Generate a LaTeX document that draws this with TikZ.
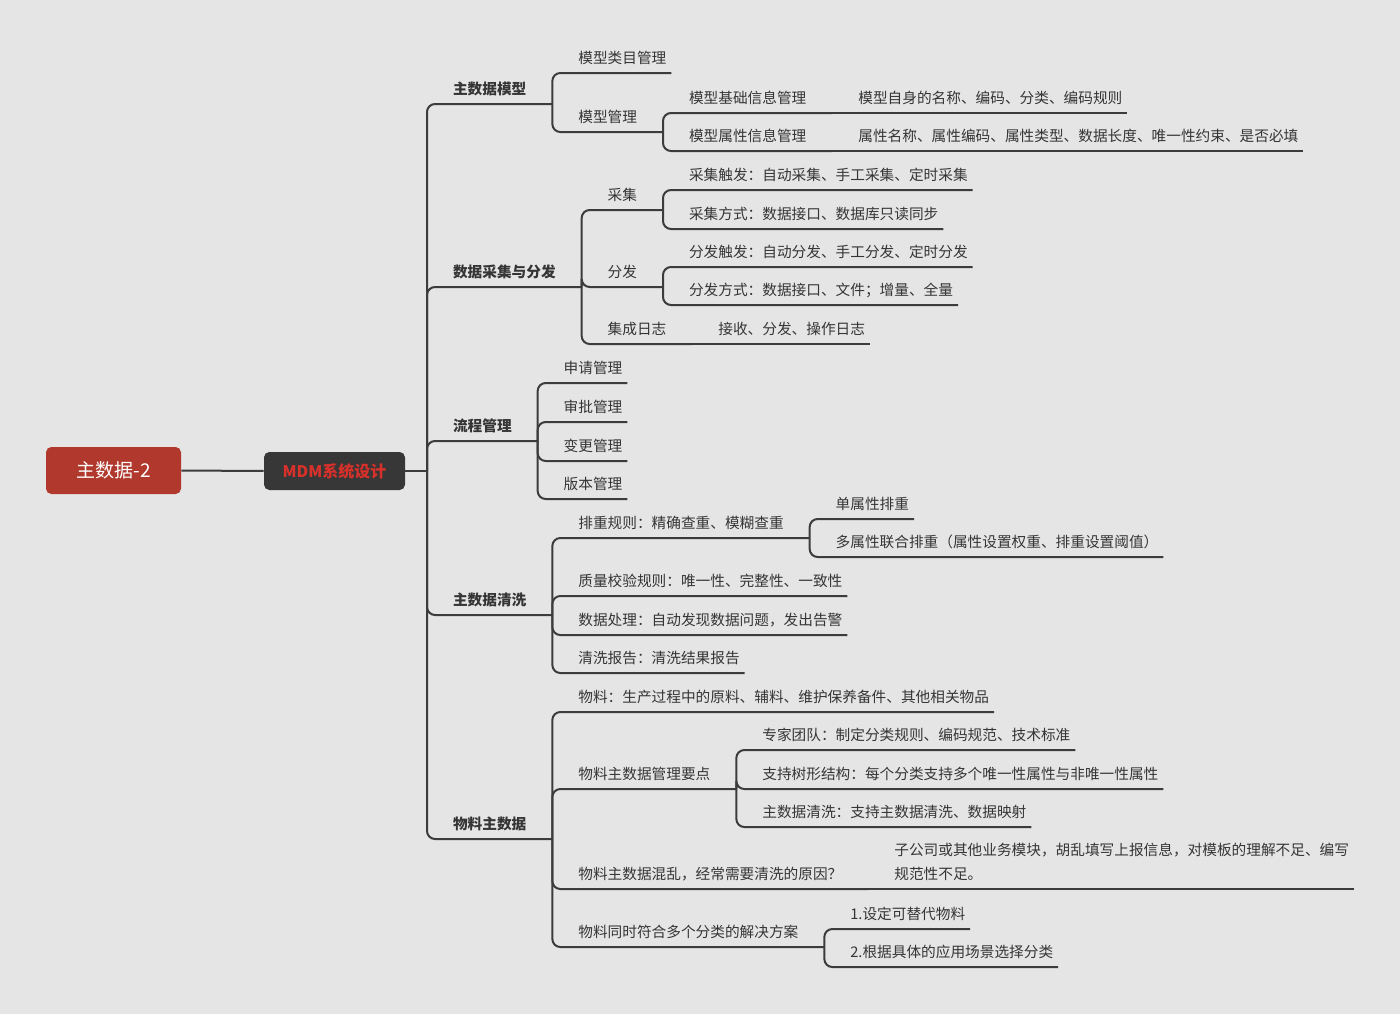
\documentclass[tikz,border=0pt]{standalone}
\usepackage{fontspec}
\setmainfont{Noto Sans CJK SC}
\definecolor{bgc}{HTML}{E5E5E5}
\definecolor{linec}{HTML}{3C3C3C}
\definecolor{textc}{HTML}{353535}
\definecolor{rootc}{HTML}{B0382C}
\definecolor{hubc}{HTML}{373737}
\definecolor{hubtext}{HTML}{D8302A}

\begin{document}
\begin{tikzpicture}[x=0.75pt, y=-0.75pt,
  root/.style={fill=rootc, rounded corners=4pt, minimum width=101.25pt, minimum height=35.25pt, text=white, font=\fontsize{14.25}{17}\selectfont},
  hubbox/.style={fill=hubc, rounded corners=4pt, minimum width=105.75pt, minimum height=28.5pt, text=hubtext, font=\fontsize{12}{14}\selectfont\bfseries},
  topic/.style={anchor=south west, inner xsep=0pt, inner ysep=6.8pt, outer sep=0pt, text depth=0pt, text=textc, font=\fontsize{11}{18}\selectfont, execute at begin node=\hspace*{19.5pt}, execute at end node=\hspace*{3.75pt}},
  branch/.style={topic, execute at end node=\hspace*{15.75pt}},
  major/.style={branch, font=\fontsize{11}{18}\selectfont\bfseries},
  link/.style={draw=linec, line width=1.5pt, rounded corners=6pt}
]
\fill[bgc] (0,0) rectangle (1400,1014);
\useasboundingbox (0,0) rectangle (1400,1014);

\node[root] (main) at (113.5,470.5) {主数据-2};
\node[hubbox] (mdm) at (334.5,471) {MDM系统设计};
\coordinate (hub) at (427,471);

% 主数据模型
\node[major] (model) at (hub |- 0,104) {主数据模型};
\node[topic] (modelcat) at (model.south east |- 0,73) {模型类目管理};
\node[branch] (modelmgr) at (model.south east |- 0,132) {模型管理};
\node[branch] (basemgr) at (modelmgr.south east |- 0,113) {模型基础信息管理};
\node[topic] (baseinfo) at (basemgr.south east) {模型自身的名称、编码、分类、编码规则};
\node[branch] (attrmgr) at (modelmgr.south east |- 0,151) {模型属性信息管理};
\node[topic] (attrinfo) at (attrmgr.south east) {属性名称、属性编码、属性类型、数据长度、唯一性约束、是否必填};

% 数据采集与分发
\node[major] (sync) at (hub |- 0,287) {数据采集与分发};
\node[branch] (collect) at (sync.south east |- 0,210) {采集};
\node[topic] (coltrig) at (collect.south east |- 0,190) {采集触发：自动采集、手工采集、定时采集};
\node[topic] (colway) at (collect.south east |- 0,229) {采集方式：数据接口、数据库只读同步};
\node[branch] (dist) at (sync.south east |- 0,287) {分发};
\node[topic] (distrig) at (dist.south east |- 0,267) {分发触发：自动分发、手工分发、定时分发};
\node[topic] (disway) at (dist.south east |- 0,305) {分发方式：数据接口、文件；增量、全量};
\node[branch] (intlog) at (sync.south east |- 0,344) {集成日志};
\node[topic] (loginfo) at (intlog.south east) {接收、分发、操作日志};

% 流程管理
\node[major] (flow) at (hub |- 0,441) {流程管理};
\node[topic] (apply) at (flow.south east |- 0,383) {申请管理};
\node[topic] (approve) at (flow.south east |- 0,422) {审批管理};
\node[topic] (change) at (flow.south east |- 0,461) {变更管理};
\node[topic] (version) at (flow.south east |- 0,499) {版本管理};

% 主数据清洗
\node[major] (clean) at (hub |- 0,615) {主数据清洗};
\node[branch] (dedup) at (clean.south east |- 0,538) {排重规则：精确查重、模糊查重};
\node[topic] (single) at (dedup.south east |- 0,519) {单属性排重};
\node[topic] (multi) at (dedup.south east |- 0,557) {多属性联合排重（属性设置权重、排重设置阈值）};
\node[topic] (quality) at (clean.south east |- 0,596) {质量校验规则：唯一性、完整性、一致性};
\node[topic] (handle) at (clean.south east |- 0,635) {数据处理：自动发现数据问题，发出告警};
\node[topic] (report) at (clean.south east |- 0,673) {清洗报告：清洗结果报告};

% 物料主数据
\node[major] (material) at (hub |- 0,839) {物料主数据};
\node[topic] (matdef) at (material.south east |- 0,712) {物料：生产过程中的原料、辅料、维护保养备件、其他相关物品};
\node[branch] (keypts) at (material.south east |- 0,789) {物料主数据管理要点};
\node[topic] (expert) at (keypts.south east |- 0,750) {专家团队：制定分类规则、编码规范、技术标准};
\node[topic] (tree) at (keypts.south east |- 0,789) {支持树形结构：每个分类支持多个唯一性属性与非唯一性属性};
\node[topic] (mdclean) at (keypts.south east |- 0,827) {主数据清洗：支持主数据清洗、数据映射};
\node[branch] (chaos) at (material.south east |- 0,889) {物料主数据混乱，经常需要清洗的原因？};
\node[topic] (reason) at (chaos.south east) {\begin{tabular}[b]{@{}l@{}}子公司或其他业务模块，胡乱填写上报信息，对模板的理解不足、编写\\规范性不足。\end{tabular}};
\node[branch] (multicat) at (material.south east |- 0,947) {物料同时符合多个分类的解决方案};
\node[topic] (alt) at (multicat.south east |- 0,929) {1.设定可替代物料};
\node[topic] (scene) at (multicat.south east |- 0,967) {2.根据具体的应用场景选择分类};

\draw[link] (main) -- (mdm);
\draw[link] (mdm.east) -- (hub);
\draw[link] (hub) |- (model.south east);
\draw[link] (hub) |- (sync.south east);
\draw[link] (hub) |- (flow.south east);
\draw[link] (hub) |- (clean.south east);
\draw[link] (hub) |- (material.south east);

\draw[link] (model.south east) |- (modelcat.south east);
\draw[link] (model.south east) |- (modelmgr.south east);
\draw[link] (modelmgr.south east) |- (basemgr.south east);
\draw[link] (modelmgr.south east) |- (attrmgr.south east);
\draw[link] (basemgr.south east) -- (baseinfo.south east);
\draw[link] (attrmgr.south east) -- (attrinfo.south east);

\draw[link] (sync.south east) |- (collect.south east);
\draw[link] (sync.south east) |- (dist.south east);
\draw[link] (sync.south east) |- (intlog.south east);
\draw[link] (collect.south east) |- (coltrig.south east);
\draw[link] (collect.south east) |- (colway.south east);
\draw[link] (dist.south east) |- (distrig.south east);
\draw[link] (dist.south east) |- (disway.south east);
\draw[link] (intlog.south east) -- (loginfo.south east);

\draw[link] (flow.south east) |- (apply.south east);
\draw[link] (flow.south east) |- (approve.south east);
\draw[link] (flow.south east) |- (change.south east);
\draw[link] (flow.south east) |- (version.south east);

\draw[link] (clean.south east) |- (dedup.south east);
\draw[link] (clean.south east) |- (quality.south east);
\draw[link] (clean.south east) |- (handle.south east);
\draw[link] (clean.south east) |- (report.south east);
\draw[link] (dedup.south east) |- (single.south east);
\draw[link] (dedup.south east) |- (multi.south east);

\draw[link] (material.south east) |- (matdef.south east);
\draw[link] (material.south east) |- (keypts.south east);
\draw[link] (material.south east) |- (chaos.south east);
\draw[link] (material.south east) |- (multicat.south east);
\draw[link] (keypts.south east) |- (expert.south east);
\draw[link] (keypts.south east) |- (tree.south east);
\draw[link] (keypts.south east) |- (mdclean.south east);
\draw[link] (chaos.south east) -- (reason.south east);
\draw[link] (multicat.south east) |- (alt.south east);
\draw[link] (multicat.south east) |- (scene.south east);
\end{tikzpicture}
\end{document}
